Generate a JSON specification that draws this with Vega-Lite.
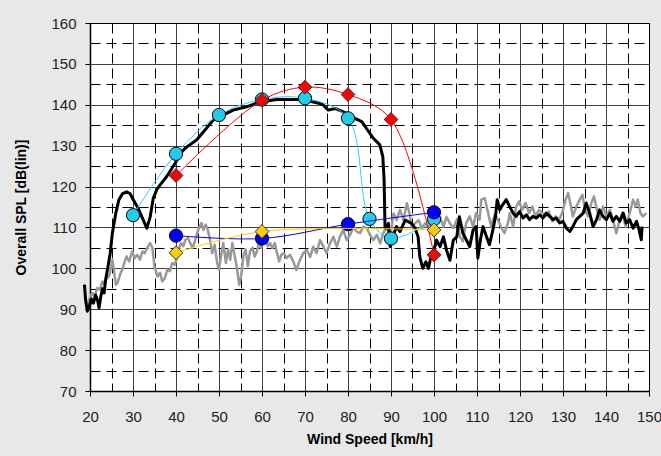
{
  "$schema": "https://vega.github.io/schema/vega-lite/v6.json",
  "width": 559,
  "height": 368,
  "autosize": "none",
  "padding": {"left": 90, "top": 23, "right": 12, "bottom": 65},
  "background": "#e8e8e8",
  "config": {
    "font": "Liberation Sans",
    "view": {"fill": "white", "stroke": "black", "strokeWidth": 1}
  },
  "datasets": {
    "gray": [
      {"x":19.4,"y":90.7},{"x":19.8,"y":92.4},{"x":20.5,"y":94.0},{"x":21.1,"y":93.2},{"x":21.7,"y":95.2},{"x":22.3,"y":94.8},{"x":22.9,"y":96.8},{"x":23.4,"y":96.0},{"x":23.9,"y":97.6},{"x":24.4,"y":98.0},{"x":24.8,"y":99.7},{"x":25.2,"y":102.1},{"x":25.6,"y":99.3},{"x":26.0,"y":96.0},{"x":26.4,"y":96.4},{"x":27.0,"y":98.5},{"x":27.5,"y":99.7},{"x":28.1,"y":101.7},{"x":28.5,"y":102.9},{"x":29.1,"y":101.7},{"x":29.8,"y":104.1},{"x":30.4,"y":102.5},{"x":31.0,"y":103.3},{"x":31.6,"y":102.1},{"x":32.2,"y":104.1},{"x":32.7,"y":103.7},{"x":33.3,"y":105.0},{"x":34.0,"y":106.2},{"x":34.5,"y":105.0},{"x":35.0,"y":100.5},{"x":35.7,"y":98.0},{"x":36.3,"y":98.9},{"x":36.8,"y":96.8},{"x":37.4,"y":97.6},{"x":38.0,"y":99.7},{"x":38.6,"y":99.3},{"x":39.1,"y":101.3},{"x":39.7,"y":100.9},{"x":40.2,"y":102.5},{"x":40.7,"y":105.0},{"x":41.2,"y":106.2},{"x":41.7,"y":105.4},{"x":42.2,"y":107.0},{"x":42.8,"y":107.4},{"x":43.3,"y":106.2},{"x":43.8,"y":105.0},{"x":44.3,"y":106.2},{"x":44.8,"y":108.2},{"x":45.3,"y":109.8},{"x":45.9,"y":111.1},{"x":46.4,"y":109.4},{"x":46.9,"y":110.7},{"x":47.4,"y":109.4},{"x":47.9,"y":107.0},{"x":48.4,"y":103.7},{"x":49.0,"y":105.8},{"x":49.5,"y":101.7},{"x":50.0,"y":99.7},{"x":50.5,"y":103.3},{"x":51.0,"y":106.2},{"x":51.6,"y":101.3},{"x":52.1,"y":104.6},{"x":52.6,"y":102.1},{"x":53.1,"y":106.2},{"x":53.6,"y":103.3},{"x":54.1,"y":100.5},{"x":54.7,"y":96.0},{"x":55.2,"y":98.5},{"x":55.7,"y":103.3},{"x":56.2,"y":104.6},{"x":56.7,"y":100.5},{"x":57.2,"y":104.1},{"x":57.8,"y":105.0},{"x":58.3,"y":102.9},{"x":58.8,"y":104.1},{"x":59.3,"y":106.2},{"x":59.8,"y":105.0},{"x":60.3,"y":107.8},{"x":60.9,"y":107.0},{"x":61.4,"y":105.4},{"x":61.9,"y":106.2},{"x":62.4,"y":105.0},{"x":63.0,"y":106.2},{"x":63.4,"y":104.1},{"x":64.0,"y":101.7},{"x":64.5,"y":103.3},{"x":65.1,"y":103.7},{"x":65.7,"y":102.5},{"x":66.5,"y":103.3},{"x":67.3,"y":101.6},{"x":68.0,"y":99.6},{"x":68.8,"y":102.0},{"x":69.6,"y":103.7},{"x":70.4,"y":104.5},{"x":71.2,"y":102.8},{"x":71.9,"y":105.3},{"x":72.7,"y":103.7},{"x":73.5,"y":106.9},{"x":74.3,"y":105.3},{"x":75.0,"y":103.7},{"x":75.8,"y":106.1},{"x":76.6,"y":107.7},{"x":77.4,"y":105.3},{"x":78.1,"y":107.7},{"x":78.9,"y":109.4},{"x":79.7,"y":106.9},{"x":80.5,"y":108.2},{"x":81.3,"y":110.2},{"x":82.0,"y":109.0},{"x":82.8,"y":108.6},{"x":83.6,"y":110.2},{"x":84.4,"y":109.8},{"x":85.1,"y":108.2},{"x":85.9,"y":106.9},{"x":86.7,"y":108.2},{"x":87.5,"y":106.1},{"x":88.2,"y":108.6},{"x":89.0,"y":110.2},{"x":89.8,"y":107.7},{"x":90.6,"y":113.4},{"x":91.3,"y":111.8},{"x":92.1,"y":114.3},{"x":92.9,"y":111.8},{"x":93.7,"y":115.9},{"x":94.3,"y":113.4},{"x":94.8,"y":110.2},{"x":95.6,"y":111.0},{"x":96.4,"y":111.8},{"x":97.2,"y":109.8},{"x":97.9,"y":111.0},{"x":98.7,"y":110.0},{"x":99.5,"y":111.5},{"x":100.3,"y":110.5},{"x":101.4,"y":112.6},{"x":102.2,"y":110.2},{"x":102.9,"y":112.6},{"x":103.7,"y":111.0},{"x":104.5,"y":109.8},{"x":105.3,"y":111.8},{"x":106.0,"y":107.8},{"x":106.7,"y":106.6},{"x":107.5,"y":111.1},{"x":108.3,"y":112.7},{"x":109.1,"y":110.2},{"x":109.8,"y":113.5},{"x":110.6,"y":111.9},{"x":111.0,"y":116.8},{"x":111.8,"y":117.2},{"x":112.6,"y":113.5},{"x":113.3,"y":110.2},{"x":114.1,"y":113.1},{"x":114.9,"y":111.9},{"x":115.7,"y":109.8},{"x":116.4,"y":108.6},{"x":117.2,"y":111.1},{"x":117.6,"y":113.5},{"x":118.4,"y":110.2},{"x":119.1,"y":115.1},{"x":119.8,"y":116.4},{"x":120.5,"y":114.3},{"x":121.3,"y":116.0},{"x":122.1,"y":113.5},{"x":122.9,"y":115.1},{"x":123.6,"y":112.7},{"x":124.4,"y":114.3},{"x":125.2,"y":113.5},{"x":126.0,"y":112.7},{"x":126.7,"y":113.9},{"x":127.5,"y":111.5},{"x":128.3,"y":112.7},{"x":129.1,"y":111.9},{"x":129.8,"y":113.5},{"x":130.6,"y":116.8},{"x":131.2,"y":118.4},{"x":131.7,"y":116.0},{"x":132.3,"y":112.7},{"x":133.1,"y":115.1},{"x":133.9,"y":116.8},{"x":134.5,"y":118.0},{"x":135.0,"y":115.1},{"x":135.8,"y":112.7},{"x":136.6,"y":116.0},{"x":137.2,"y":117.6},{"x":137.9,"y":114.3},{"x":138.5,"y":111.9},{"x":139.3,"y":115.1},{"x":140.1,"y":112.7},{"x":140.9,"y":114.3},{"x":141.6,"y":111.9},{"x":142.4,"y":108.6},{"x":143.0,"y":111.1},{"x":143.8,"y":113.5},{"x":144.6,"y":110.2},{"x":145.5,"y":113.5},{"x":146.3,"y":116.8},{"x":146.9,"y":115.1},{"x":147.4,"y":116.8},{"x":148.0,"y":113.5},{"x":148.6,"y":112.7},{"x":149.4,"y":113.5}
    ],
    "black": [
      {"x":18.7,"y":96.0},{"x":19.0,"y":92.0},{"x":19.4,"y":89.5},{"x":19.8,"y":90.5},{"x":20.3,"y":92.5},{"x":20.8,"y":91.5},{"x":21.3,"y":93.5},{"x":21.8,"y":92.0},{"x":22.1,"y":90.3},{"x":22.5,"y":93.0},{"x":22.9,"y":95.0},{"x":23.3,"y":94.0},{"x":23.6,"y":97.0},{"x":24.2,"y":100.5},{"x":24.7,"y":103.7},{"x":25.2,"y":108.6},{"x":26.0,"y":113.5},{"x":26.7,"y":116.7},{"x":27.5,"y":118.2},{"x":28.5,"y":118.7},{"x":29.3,"y":118.3},{"x":30.1,"y":116.7},{"x":31.2,"y":114.7},{"x":32.4,"y":111.8},{"x":33.2,"y":109.8},{"x":34.0,"y":112.6},{"x":34.7,"y":117.1},{"x":35.5,"y":119.2},{"x":36.3,"y":120.4},{"x":37.8,"y":122.4},{"x":39.8,"y":125.7},{"x":41.3,"y":128.5},{"x":42.5,"y":129.7},{"x":44.8,"y":131.4},{"x":46.4,"y":133.4},{"x":48.7,"y":136.3},{"x":50.2,"y":137.1},{"x":53.3,"y":138.7},{"x":56.4,"y":139.5},{"x":59.5,"y":140.7},{"x":63.4,"y":141.3},{"x":68.8,"y":141.3},{"x":71.9,"y":140.7},{"x":73.5,"y":140.3},{"x":74.3,"y":139.9},{"x":75.4,"y":138.7},{"x":77.0,"y":139.1},{"x":79.7,"y":137.9},{"x":81.6,"y":136.7},{"x":83.2,"y":135.9},{"x":84.3,"y":134.2},{"x":85.9,"y":131.8},{"x":87.4,"y":130.2},{"x":88.1,"y":127.3},{"x":88.4,"y":121.6},{"x":88.6,"y":110.2},{"x":88.8,"y":109.8},{"x":89.4,"y":111.0},{"x":89.8,"y":105.3},{"x":90.4,"y":107.7},{"x":91.3,"y":110.2},{"x":92.1,"y":109.0},{"x":93.3,"y":111.8},{"x":94.8,"y":111.0},{"x":95.6,"y":109.8},{"x":96.3,"y":107.7},{"x":96.7,"y":102.8},{"x":97.4,"y":100.0},{"x":98.1,"y":101.6},{"x":98.7,"y":100.0},{"x":99.2,"y":102.4},{"x":99.8,"y":103.7},{"x":100.6,"y":106.9},{"x":101.4,"y":105.3},{"x":102.2,"y":107.7},{"x":102.9,"y":104.5},{"x":103.7,"y":102.0},{"x":104.5,"y":106.9},{"x":105.3,"y":107.7},{"x":105.9,"y":112.6},{"x":106.4,"y":110.2},{"x":106.7,"y":108.6},{"x":107.5,"y":107.0},{"x":108.3,"y":105.3},{"x":109.1,"y":109.4},{"x":109.8,"y":110.2},{"x":110.2,"y":102.5},{"x":110.8,"y":107.0},{"x":111.4,"y":110.2},{"x":112.2,"y":107.8},{"x":112.9,"y":105.8},{"x":113.7,"y":109.4},{"x":114.3,"y":112.7},{"x":114.7,"y":116.8},{"x":115.3,"y":114.3},{"x":116.0,"y":115.6},{"x":116.8,"y":116.8},{"x":117.6,"y":115.1},{"x":118.4,"y":113.5},{"x":119.1,"y":112.7},{"x":119.9,"y":113.9},{"x":120.7,"y":112.3},{"x":121.5,"y":113.1},{"x":122.2,"y":111.9},{"x":123.0,"y":112.7},{"x":123.8,"y":112.3},{"x":124.6,"y":113.1},{"x":125.3,"y":112.3},{"x":126.1,"y":113.5},{"x":126.9,"y":112.7},{"x":127.7,"y":111.9},{"x":128.4,"y":112.3},{"x":129.2,"y":111.1},{"x":130.0,"y":111.5},{"x":130.8,"y":109.8},{"x":131.6,"y":109.0},{"x":132.3,"y":110.2},{"x":133.1,"y":111.9},{"x":133.9,"y":112.7},{"x":134.7,"y":113.5},{"x":135.4,"y":116.0},{"x":136.2,"y":113.5},{"x":137.0,"y":110.2},{"x":137.8,"y":111.9},{"x":138.5,"y":114.3},{"x":139.3,"y":112.7},{"x":140.1,"y":111.9},{"x":140.9,"y":113.5},{"x":141.6,"y":111.5},{"x":142.4,"y":112.7},{"x":143.2,"y":111.5},{"x":144.0,"y":113.5},{"x":144.7,"y":111.1},{"x":145.5,"y":111.9},{"x":146.3,"y":109.8},{"x":147.1,"y":111.5},{"x":147.7,"y":109.4},{"x":148.2,"y":107.0},{"x":148.4,"y":110.2}
    ],
    "cyan": [
      {"x":30,"y":113.0},{"x":40,"y":128.0},{"x":50,"y":137.5},{"x":60,"y":141.3},{"x":70,"y":141.6},{"x":80,"y":136.7},{"x":85,"y":112.1},{"x":90,"y":107.3},{"x":100,"y":112.0}
    ],
    "red": [
      {"x":40,"y":122.7},{"x":60,"y":141.1},{"x":70,"y":144.3},{"x":80,"y":142.5},{"x":90,"y":136.4},{"x":100,"y":103.3}
    ],
    "blue": [
      {"x":40,"y":108.0},{"x":60,"y":107.3},{"x":80,"y":110.8},{"x":100,"y":113.7}
    ],
    "yellow": [
      {"x":40,"y":103.8},{"x":60,"y":109.0},{"x":100,"y":109.4}
    ]
  },
  "encoding": {
    "x": {
      "field": "x", "type": "quantitative",
      "scale": {"domain": [20, 150], "nice": false, "zero": false},
      "axis": {
        "title": "Wind Speed [km/h]",
        "values": [20,25,30,35,40,45,50,55,60,65,70,75,80,85,90,95,100,105,110,115,120,125,130,135,140,145,150],
        "labelExpr": "datum.value % 10 === 0 ? datum.label : ''",
        "labelFont": "Liberation Sans", "labelFontSize": 15, "labelColor": "#222",
        "labelPadding": 13, "labelOverlap": false, "labelFlush": false,
        "tickSize": 5, "tickColor": "black",
        "tickOpacity": {"condition": {"test": "datum.value % 10 === 0", "value": 1}, "value": 0},
        "domainColor": "black", "domainWidth": 1.5,
        "grid": true, "gridColor": "black", "gridOpacity": 1, "gridWidth": 1,
        "gridDash": {"condition": {"test": "datum.value % 10 === 0", "value": [1, 0]}, "value": [10, 5]},
        "titleFont": "Liberation Sans", "titleFontSize": 14, "titleFontWeight": "bold", "titleColor": "black",
        "titlePadding": 8, "zindex": 0
      }
    },
    "y": {
      "field": "y", "type": "quantitative",
      "scale": {"domain": [70, 160], "nice": false, "zero": false},
      "axis": {
        "title": "Overall SPL [dB(lin)]",
        "values": [70,75,80,85,90,95,100,105,110,115,120,125,130,135,140,145,150,155,160],
        "labelExpr": "datum.value % 10 === 0 ? datum.label : ''",
        "labelFont": "Liberation Sans", "labelFontSize": 15, "labelColor": "#222",
        "labelPadding": 9, "labelOverlap": false, "labelFlush": false,
        "tickSize": 5, "tickColor": "black",
        "tickOpacity": {"condition": {"test": "datum.value % 10 === 0", "value": 1}, "value": 0},
        "domainColor": "black", "domainWidth": 1.5,
        "grid": true, "gridColor": "black", "gridOpacity": 1, "gridWidth": 1,
        "gridDash": {"condition": {"test": "datum.value % 10 === 0", "value": [1, 0]}, "value": [10, 6]},
        "titleFont": "Liberation Sans", "titleFontSize": 14, "titleFontWeight": "bold", "titleColor": "black",
        "titlePadding": 22, "zindex": 0
      }
    }
  },
  "layer": [
    {"data": {"name": "gray"}, "mark": {"type": "line", "color": "#999999", "strokeWidth": 2.5, "strokeJoin": "round"}},
    {"data": {"name": "black"}, "mark": {"type": "line", "color": "black", "strokeWidth": 3, "strokeJoin": "round"}},
    {"data": {"name": "cyan"}, "mark": {"type": "line", "color": "#33ccff", "strokeWidth": 1, "interpolate": "catmull-rom"}},
    {"data": {"name": "cyan"}, "mark": {"type": "point", "shape": "circle", "filled": true, "fill": "#22ccee", "stroke": "black", "strokeWidth": 1, "size": 175, "opacity": 1}},
    {"data": {"name": "red"}, "mark": {"type": "line", "color": "#ff0000", "strokeWidth": 1, "interpolate": "catmull-rom"}},
    {"data": {"name": "red"}, "mark": {"type": "point", "shape": "diamond", "filled": true, "fill": "#ff0000", "stroke": "#333", "strokeWidth": 1, "size": 190, "opacity": 1}},
    {"data": {"name": "blue"}, "mark": {"type": "line", "color": "#0000ff", "strokeWidth": 1, "interpolate": "catmull-rom"}},
    {"data": {"name": "blue"}, "mark": {"type": "point", "shape": "circle", "filled": true, "fill": "#0000ff", "stroke": "black", "strokeWidth": 1, "size": 175, "opacity": 1}},
    {"data": {"name": "yellow"}, "mark": {"type": "line", "color": "#ffcc00", "strokeWidth": 1, "interpolate": "catmull-rom"}},
    {"data": {"name": "yellow"}, "mark": {"type": "point", "shape": "diamond", "filled": true, "fill": "#ffcc00", "stroke": "#333", "strokeWidth": 1, "size": 190, "opacity": 1}}
  ]
}
